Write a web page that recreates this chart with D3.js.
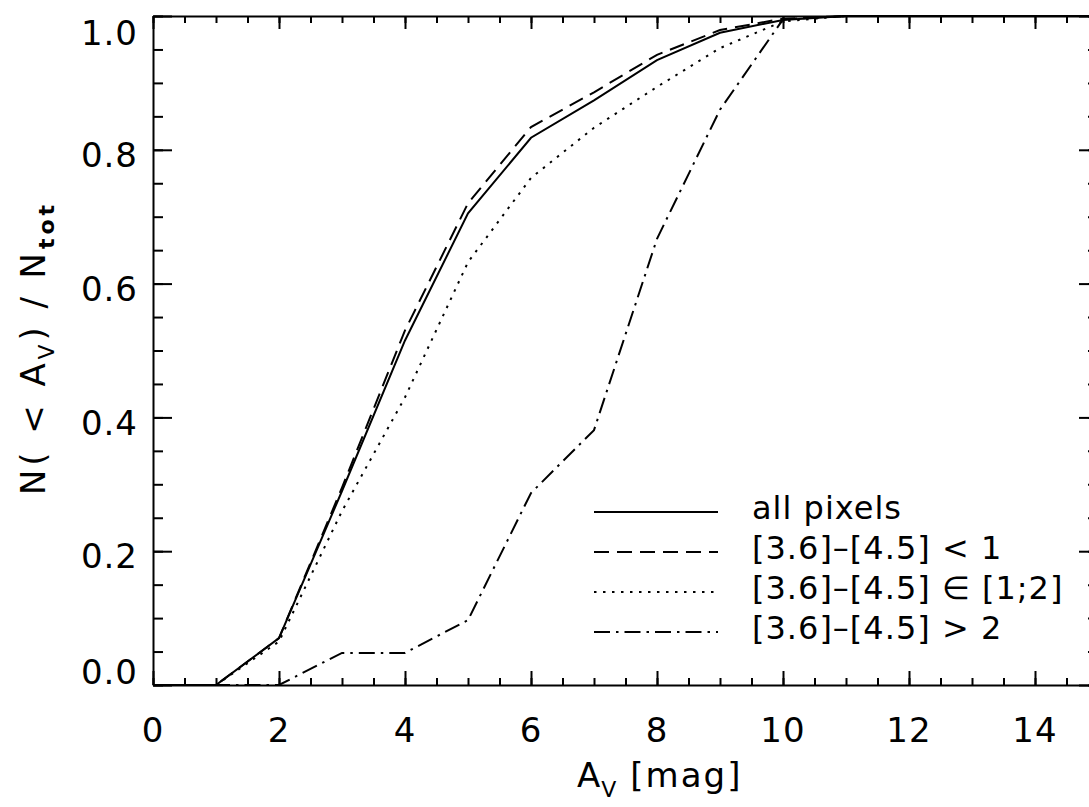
<!DOCTYPE html>
<html>
<head>
<meta charset="utf-8">
<script src="https://cdn.jsdelivr.net/npm/d3@7"></script>
<style>
  html, body { margin: 0; padding: 0; background: #fff; }
  svg { display: block; }
  text { font-family: "DejaVu Sans", sans-serif; fill: #000; }
</style>
</head>
<body>
<svg id="chart" width="1089" height="807"></svg>
<script>
// Cumulative fraction of pixels below a given extinction A_V
const av = [0, 1, 2, 3, 4, 5, 6, 7, 8, 9, 10, 11, 12, 13, 14, 15];
const allPixels = [0, 0, 0.070, 0.290, 0.515, 0.705, 0.818, 0.874, 0.934, 0.975, 0.994, 1, 1, 1, 1, 1];
const colorLt1  = [0, 0, 0.070, 0.295, 0.530, 0.720, 0.834, 0.886, 0.942, 0.979, 0.996, 1, 1, 1, 1, 1];
const color1to2 = [0, 0, 0.065, 0.260, 0.430, 0.632, 0.758, 0.833, 0.894, 0.952, 0.992, 1, 1, 1, 1, 1];
const colorGt2  = [0, 0, 0, 0.048, 0.048, 0.097, 0.287, 0.381, 0.667, 0.860, 0.995, 1, 1, 1, 1, 1];

const seriesNames = ["all pixels", "[3.6]–[4.5] < 1", "[3.6]–[4.5] ∈ [1;2]", "[3.6]–[4.5] > 2"];
const xTickValues = [0, 2, 4, 6, 8, 10, 12, 14];
const yTickValues = [0.0, 0.2, 0.4, 0.6, 0.8, 1.0];

const svg = d3.select("#chart");
const plotLeft = 153, plotRight = 1098, plotTop = 16, plotBottom = 685;

const x = d3.scaleLinear().domain([0, 15]).range([plotLeft, plotRight]);
const y = d3.scaleLinear().domain([0, 1]).range([plotBottom, plotTop]);

const series = [
  { name: seriesNames[0], values: allPixels, dash: null },
  { name: seriesNames[1], values: colorLt1,  dash: "15,8" },
  { name: seriesNames[2], values: color1to2, dash: "2.5,6.5" },
  { name: seriesNames[3], values: colorGt2,  dash: "16,6,2.5,6" }
];

const line = d3.line()
  .x((d, i) => x(av[i]))
  .y(d => y(d));

const plot = svg.append("g");
series.forEach(s => {
  plot.append("path")
    .datum(s.values)
    .attr("d", line)
    .attr("fill", "none")
    .attr("stroke", "#000")
    .attr("stroke-width", 2)
    .attr("stroke-dasharray", s.dash);
});

// Frame with inward ticks on all four sides
const minorX = d3.range(0, 15.01, 0.5);
const minorY = d3.range(0, 1.001, 0.05);

function addAxis(axisGen, transform) {
  const g = svg.append("g").attr("transform", transform).call(axisGen);
  g.selectAll("text").remove();
  g.select(".domain").attr("stroke-width", 2);
  g.selectAll(".tick line").attr("stroke-width", 2);
  return g;
}

addAxis(d3.axisBottom(x).tickValues(minorX).tickSize(-7).tickSizeOuter(0), `translate(0,${plotBottom})`);
addAxis(d3.axisBottom(x).tickValues(xTickValues).tickSize(-14).tickSizeOuter(0), `translate(0,${plotBottom})`).select(".domain").remove();
addAxis(d3.axisTop(x).tickValues(minorX).tickSize(-7).tickSizeOuter(0), `translate(0,${plotTop})`);
addAxis(d3.axisTop(x).tickValues(xTickValues).tickSize(-13).tickSizeOuter(0), `translate(0,${plotTop})`).select(".domain").remove();
addAxis(d3.axisLeft(y).tickValues(minorY).tickSize(-10).tickSizeOuter(0), `translate(${plotLeft},0)`);
addAxis(d3.axisLeft(y).tickValues(yTickValues).tickSize(-19).tickSizeOuter(0), `translate(${plotLeft},0)`).select(".domain").remove();
addAxis(d3.axisRight(y).tickValues(minorY).tickSize(-10).tickSizeOuter(0), `translate(${plotRight},0)`);
addAxis(d3.axisRight(y).tickValues(yTickValues).tickSize(-19).tickSizeOuter(0), `translate(${plotRight},0)`).select(".domain").remove();

// Tick labels
svg.append("g").selectAll("text")
  .data(xTickValues).join("text")
  .attr("x", d => x(d))
  .attr("y", 742)
  .attr("text-anchor", "middle")
  .attr("font-size", 34)
  .attr("letter-spacing", 1)
  .text(d => d3.format("d")(d));

svg.append("g").selectAll("text")
  .data(yTickValues).join("text")
  .attr("x", 138)
  .attr("y", d => Math.max(plotTop + 17, Math.min(plotBottom - 13, y(d) + 5)))
  .attr("dy", "0.36em")
  .attr("text-anchor", "end")
  .attr("font-size", 34)
  .attr("letter-spacing", 1)
  .text(d => d3.format(".1f")(d));

// Axis titles
const xt = svg.append("text")
  .attr("x", 577).attr("y", 787)
  .attr("font-size", 34);
xt.append("tspan").text("A");
xt.append("tspan").attr("font-size", 22).attr("dy", 10).attr("dx", 1).text("V");
xt.append("tspan").attr("dy", -10).attr("dx", 14).attr("letter-spacing", 2).text("[mag]");

const yt = svg.append("text")
  .attr("transform", "translate(45,495) rotate(-90)")
  .attr("font-size", 34)
  .attr("textLength", 290)
  .attr("lengthAdjust", "spacing");
yt.append("tspan").text("N( < A");
yt.append("tspan").attr("font-size", 22).attr("dy", 9).text("V");
yt.append("tspan").attr("dy", -9).text(") / N");
yt.append("tspan").attr("font-size", 22).attr("dy", 9).attr("font-weight", "bold").text("tot");

// Legend
const legend = svg.append("g");
const rowY = [512, 552, 592, 632];
series.forEach((s, i) => {
  legend.append("line")
    .attr("x1", 594).attr("x2", 718)
    .attr("y1", rowY[i]).attr("y2", rowY[i])
    .attr("stroke", "#000").attr("stroke-width", 2)
    .attr("stroke-dasharray", s.dash);
  legend.append("text")
    .attr("x", 752).attr("y", rowY[i] + 7)
    .attr("font-size", 32)
    .attr("letter-spacing", 1)
    .text(s.name);
});
</script>
</body>
</html>
